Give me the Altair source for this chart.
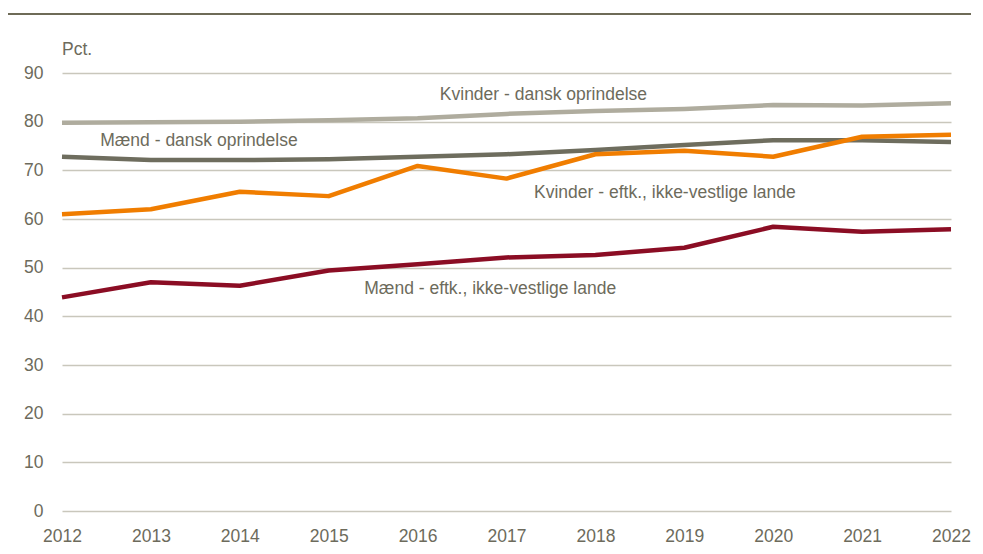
import altair as alt
import pandas as pd

years = [2012, 2013, 2014, 2015, 2016, 2017, 2018, 2019, 2020, 2021, 2022]
kvinder_dansk = [79.8, 79.9, 80.0, 80.3, 80.7, 81.6, 82.2, 82.6, 83.4, 83.3, 83.8]
maend_dansk = [72.8, 72.1, 72.1, 72.3, 72.8, 73.3, 74.2, 75.2, 76.2, 76.2, 75.8]
kvinder_eftk = [61.0, 62.0, 65.6, 64.7, 70.9, 68.3, 73.3, 74.0, 72.8, 76.9, 77.3]
maend_eftk = [43.9, 47.0, 46.3, 49.4, 50.7, 52.1, 52.6, 54.1, 58.4, 57.4, 57.9]

series_names = [
    "Kvinder - dansk oprindelse",
    "Mænd - dansk oprindelse",
    "Kvinder - eftk., ikke-vestlige lande",
    "Mænd - eftk., ikke-vestlige lande",
]
series_values = [kvinder_dansk, maend_dansk, kvinder_eftk, maend_eftk]
series_colors = ["#afac9e", "#6e6d5e", "#f07d00", "#8b0d24"]

label_x = [2016.25, 2012.43, 2017.31, 2015.40]
label_y = [85.5, 76.0, 65.3, 45.6]

FONT = "Liberation Sans"
TEXT_COLOR = "#6d6b5c"
FS = 17.5

rows = []
for name, vals in zip(series_names, series_values):
    for y, v in zip(years, vals):
        rows.append({"year": y, "value": v, "serie": name})
df = pd.DataFrame(rows)
labels_df = pd.DataFrame({"x": label_x, "y": label_y, "text": series_names})

xscale = alt.Scale(domain=[2012, 2022], nice=False, zero=False)
yscale = alt.Scale(domain=[0, 90], nice=False)

lines = alt.Chart(df).mark_line(strokeWidth=4.5, strokeJoin="round", strokeCap="butt").encode(
    x=alt.X("year:Q", scale=xscale, axis=alt.Axis(
        values=years, format="d", title=None, grid=False, ticks=False, domain=False,
        labelFont=FONT, labelFontSize=FS, labelColor=TEXT_COLOR, labelPadding=16,
        labelFlush=False, labelOverlap=False)),
    y=alt.Y("value:Q", scale=yscale, axis=alt.Axis(
        values=list(range(0, 91, 10)), title=None, grid=True, gridColor="#c9c7bc",
        gridWidth=1.5, ticks=False, domain=False, labelFont=FONT, labelFontSize=FS,
        labelColor=TEXT_COLOR, labelPadding=19)),
    color=alt.Color("serie:N", scale=alt.Scale(domain=series_names, range=series_colors), legend=None),
    detail="serie:N",
)

texts = alt.Chart(labels_df).mark_text(
    align="left", baseline="middle", font=FONT, fontSize=FS, color=TEXT_COLOR
).encode(
    x=alt.X("x:Q", scale=xscale),
    y=alt.Y("y:Q", scale=yscale),
    text="text:N",
)

pct = alt.Chart(pd.DataFrame({"t": ["Pct."]})).mark_text(
    align="left", baseline="middle", font=FONT, fontSize=FS, color=TEXT_COLOR
).encode(x=alt.value(0), y=alt.value(-23), text="t:N")

top_rule = alt.Chart(pd.DataFrame({"a": [0]})).mark_rule(color="#6e6b57", strokeWidth=2).encode(
    x=alt.value(-59), x2=alt.value(909), y=alt.value(-59)
)

chart = alt.layer(lines, texts, pct, top_rule).properties(
    width=889, height=438,
    autosize=alt.AutoSizeParams(type="none"),
    padding={"left": 54, "top": 65, "right": 20, "bottom": 35},
).configure_view(stroke=None)

chart.save("out.html", embed_options={"renderer": "svg", "actions": False})
